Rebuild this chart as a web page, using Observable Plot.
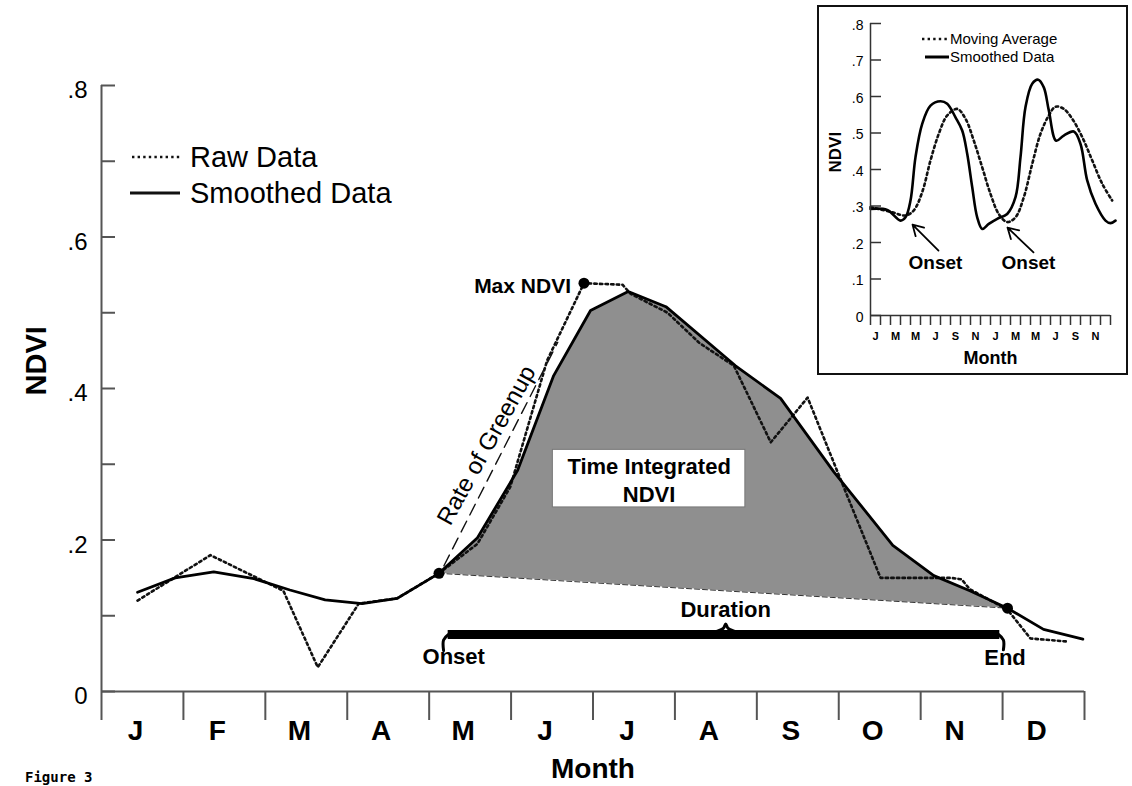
<!DOCTYPE html>
<html>
<head>
<meta charset="utf-8">
<script src="https://cdn.jsdelivr.net/npm/d3@7"></script>
<script src="https://cdn.jsdelivr.net/npm/@observablehq/plot@0.6"></script>
<style>
  html, body { margin: 0; padding: 0; background: #fff; }
  body { width: 1132px; height: 786px; overflow: hidden; position: relative;
         font-family: "Liberation Sans", Arial, Helvetica, sans-serif; color: #000; }
  #main { position: absolute; left: 0; top: 0; }
  #inset { position: absolute; left: 817px; top: 5px; width: 307px; height: 366px;
           border: 2px solid #111; background: #fff; }
  #inset svg { position: absolute; left: 0; top: 0; }
  .leg { position: absolute; white-space: nowrap; }
  .legtxt { position: absolute; white-space: nowrap; line-height: 1; }
  #caption { position: absolute; left: 25px; top: 770px; font-family: "DejaVu Sans Mono", "Liberation Mono", monospace;
             font-weight: bold; font-size: 14px; line-height: 14px; }
</style>
</head>
<body>
<div id="main"></div>
<div id="inset"></div>

<svg class="leg" style="left:128px;top:150px" width="56" height="14"><line x1="4" x2="52" y1="7" y2="7" stroke="#111" stroke-width="2.6" stroke-dasharray="2.4,3.2"/></svg>
<div class="legtxt" style="left:190px;top:143px;font-size:29px;">Raw Data</div>
<svg class="leg" style="left:128px;top:186px" width="56" height="14"><line x1="2" x2="52" y1="7" y2="7" stroke="#111" stroke-width="2.8"/></svg>
<div class="legtxt" style="left:190px;top:179px;font-size:29px;">Smoothed Data</div>

<div id="caption">Figure 3</div>

<script>
// ---------------- Main chart data ----------------
const monthLabels = ["J","F","M","A","M","J","J","A","S","O","N","D"];

// Raw (dotted) series: position in months from Jan 1, NDVI
const rawMonth = [0.44, 1.33, 2.22, 2.64, 3.14, 3.61, 4.12, 4.59, 4.99, 5.44, 5.89, 6.36, 6.46, 6.91, 7.3, 7.72, 8.17, 8.62, 8.94, 9.51, 10.37, 10.5, 10.6, 11.06, 11.34, 11.79];
const rawNdvi  = [0.12, 0.18, 0.133, 0.032, 0.116, 0.123, 0.156, 0.195, 0.27, 0.437, 0.539, 0.537, 0.525, 0.50, 0.46, 0.43, 0.329, 0.388, 0.302, 0.15, 0.15, 0.148, 0.135, 0.108, 0.07, 0.066];

// Smoothed (solid) series
const smoothMonth = [0.44, 0.9, 1.37, 1.86, 2.3, 2.73, 3.18, 3.61, 4.12, 4.59, 5.08, 5.52, 5.97, 6.43, 6.89, 7.74, 8.29, 8.94, 9.66, 10.16, 10.6, 11.06, 11.5, 11.98];
const smoothNdvi  = [0.131, 0.15, 0.158, 0.149, 0.134, 0.121, 0.116, 0.123, 0.156, 0.203, 0.292, 0.417, 0.503, 0.528, 0.508, 0.43, 0.387, 0.29, 0.193, 0.153, 0.133, 0.11, 0.082, 0.069];

const yTicks = [0, 0.2, 0.4, 0.6, 0.8];
const yMinorTicks = [0.1, 0.3, 0.5, 0.7];

// Key points
const onsetPoint = {month: 4.12, ndvi: 0.156};
const endPoint   = {month: 11.06, ndvi: 0.11};
const maxPoint   = {month: 5.89, ndvi: 0.539};

// Annotation placements (data units)
const greenupLine = [{month: 4.18, ndvi: 0.166}, {month: 5.57, ndvi: 0.461}];
const greenupLabel = {text: "Rate of Greenup", month: 4.70, ndvi: 0.325, angle: -61};
const tiBox = {x1: 5.51, x2: 7.86, y1: 0.243, y2: 0.319, text: "Time Integrated\nNDVI", month: 6.685, ndvi: 0.281};
const braceLabels = [
  {text: "Duration", month: 7.62, ndvi: 0.107},
  {text: "Onset", month: 4.30, ndvi: 0.045},
  {text: "End", month: 11.03, ndvi: 0.044}
];
const braceBarY = 0.0752;
const braceLeft = 4.176, braceMid = 7.62, braceRight = 11.01;

// ---------------- Inset data ----------------
const insetMonthLabels = ["J","M","M","J","S","N","J","M","M","J","S","N"];
const insetSmoothMonth = [0, 1.67, 3.0, 3.5, 4.0, 4.5, 5.17, 6.0, 7.0, 7.67, 8.5, 9.17, 9.67, 10.17, 10.67, 11.17, 11.83, 12.67, 13.67, 14.5, 15.0, 15.5, 16.17, 16.77, 17.33, 17.83, 18.57, 19.33, 20.33, 21.0, 21.67, 22.5, 23.5, 24.0, 24.5];
const insetSmoothNdvi  = [0.292, 0.289, 0.26, 0.269, 0.315, 0.434, 0.525, 0.575, 0.587, 0.58, 0.543, 0.507, 0.443, 0.352, 0.269, 0.237, 0.251, 0.265, 0.278, 0.324, 0.434, 0.571, 0.635, 0.646, 0.625, 0.562, 0.479, 0.493, 0.504, 0.47, 0.37, 0.306, 0.26, 0.253, 0.26];
const insetAvgMonth = [0, 2.17, 3.5, 4.33, 5.17, 6.0, 6.83, 7.67, 8.67, 9.5, 10.33, 11.17, 12.0, 12.83, 13.67, 14.5, 15.33, 16.17, 17.0, 17.83, 18.5, 19.33, 20.17, 21.17, 22.17, 23.17, 24.17];
const insetAvgNdvi  = [0.297, 0.283, 0.274, 0.288, 0.338, 0.425, 0.498, 0.548, 0.566, 0.539, 0.479, 0.406, 0.333, 0.278, 0.256, 0.269, 0.324, 0.415, 0.498, 0.548, 0.572, 0.566, 0.539, 0.489, 0.425, 0.361, 0.315];
const insetYTicks = [0, 0.1, 0.2, 0.3, 0.4, 0.5, 0.6, 0.7, 0.8];
const insetArrows = [
  {x1: 6.8, y1: 0.178, x2: 4.2, y2: 0.249, labelMonth: 6.5, labelNdvi: 0.145},
  {x1: 16.3, y1: 0.173, x2: 13.7, y2: 0.241, labelMonth: 15.8, labelNdvi: 0.145}
];

// ---------------- Build tables ----------------
const raw = rawMonth.map((m, i) => ({month: m, ndvi: rawNdvi[i]}));
const smooth = smoothMonth.map((m, i) => ({month: m, ndvi: smoothNdvi[i]}));
const slope = (endPoint.ndvi - onsetPoint.ndvi) / (endPoint.month - onsetPoint.month);
const shade = smooth
  .filter(d => d.month >= onsetPoint.month && d.month <= endPoint.month)
  .map(d => ({month: d.month, ndvi: d.ndvi, base: onsetPoint.ndvi + slope * (d.month - onsetPoint.month)}));

const fmtTick = d => d === 0 ? "0" : d3.format(".1f")(d).replace(/^0/, "");
const FONT = "'Liberation Sans', Arial, Helvetica, sans-serif";
const AX = "#555";

// brace geometry (data units)
const braceBar = [
  {month: braceLeft + 0.05, ndvi: braceBarY},
  {month: braceRight - 0.05, ndvi: braceBarY}
];
const braceHooks = [
  [{month: braceLeft, ndvi: 0.054}, {month: braceLeft, ndvi: 0.068}, {month: braceLeft + 0.06, ndvi: braceBarY}],
  [{month: braceRight, ndvi: 0.055}, {month: braceRight, ndvi: 0.068}, {month: braceRight - 0.06, ndvi: braceBarY}],
  [{month: braceMid - 0.14, ndvi: braceBarY + 0.003}, {month: braceMid - 0.03, ndvi: braceBarY + 0.008}, {month: braceMid, ndvi: 0.089}, {month: braceMid + 0.03, ndvi: braceBarY + 0.008}, {month: braceMid + 0.14, ndvi: braceBarY + 0.003}]
];

const plotW = 1132, plotH = 786, mL = 101, mR = 48, mT = 85, mB = 95;
const innerW = plotW - mL - mR;

const main = Plot.plot({
  width: plotW, height: plotH,
  marginLeft: mL, marginRight: mR, marginTop: mT, marginBottom: mB,
  x: {domain: [0, 12]},
  y: {domain: [0, 0.8]},
  style: {fontFamily: FONT, color: "#000", background: "#fff"},
  marks: [
    Plot.areaY(shade, {x: "month", y1: "base", y2: "ndvi", fill: "#8f8f8f"}),
    Plot.line([onsetPoint, endPoint], {x: "month", y: "ndvi", stroke: "#333", strokeWidth: 1, strokeDasharray: "5,3"}),
    Plot.line(greenupLine, {x: "month", y: "ndvi", stroke: "#111", strokeWidth: 1.4, strokeDasharray: "12,7"}),
    Plot.line(raw, {x: "month", y: "ndvi", stroke: "#111", strokeWidth: 2.6, strokeDasharray: "2.4,3.2"}),
    Plot.line(smooth, {x: "month", y: "ndvi", stroke: "#000", strokeWidth: 2.8}),
    Plot.dot([onsetPoint, endPoint, maxPoint], {x: "month", y: "ndvi", r: 5.5, fill: "#000", stroke: "none"}),
    Plot.rect([tiBox], {x1: "x1", x2: "x2", y1: "y1", y2: "y2", fill: "#fff", stroke: "#777", strokeWidth: 1}),
    Plot.text([tiBox], {x: "month", y: "ndvi", text: "text", fontSize: 22, fontWeight: "bold", lineHeight: 1.3}),
    Plot.text([maxPoint], {x: "month", y: "ndvi", text: () => "Max NDVI", textAnchor: "end", dx: -13, dy: 3, fontSize: 21, fontWeight: "bold"}),
    Plot.text([greenupLabel], {x: "month", y: "ndvi", text: "text", rotate: greenupLabel.angle, fontSize: 24}),
    Plot.line(braceBar, {x: "month", y: "ndvi", stroke: "#000", strokeWidth: 9, strokeLinecap: "butt"}),
    ...braceHooks.map(h => Plot.line(h, {x: "month", y: "ndvi", stroke: "#000", strokeWidth: 3, curve: "catmull-rom"})),
    Plot.text(braceLabels, {x: "month", y: "ndvi", text: "text", fontSize: 22, fontWeight: "bold"}),
    // axes
    Plot.ruleY([0], {stroke: AX, strokeWidth: 2}),
    Plot.ruleX([0], {y1: 0, y2: 0.8, stroke: AX, strokeWidth: 2}),
    Plot.ruleY(yTicks.concat(yMinorTicks), {stroke: AX, strokeWidth: 2, insetRight: innerW - 14}),
    Plot.axisY(yTicks, {tickSize: 0, tickPadding: 14, tickFormat: fmtTick, fontSize: 24, dy: 5, label: null}),
    Plot.axisX(d3.range(13), {tickSize: 29, tickFormat: () => "", stroke: AX, strokeWidth: 2, label: null}),
    Plot.axisX(d3.range(12).map(i => i + 0.5), {tickSize: 0, tickPadding: 29, tickFormat: d => monthLabels[Math.floor(d)], fontSize: 28, fontWeight: "bold", dx: -7, label: null}),
    Plot.text(["Month"], {frameAnchor: "bottom", lineAnchor: "middle", dy: 78, fontSize: 28, fontWeight: "bold"}),
    Plot.text(["NDVI"], {frameAnchor: "left", dx: -65, dy: 7, rotate: -90, fontSize: 29, fontWeight: "bold"})
  ]
});
document.getElementById("main").appendChild(main);

// ---------------- Inset ----------------
const insetSmooth = insetSmoothMonth.map((m, i) => ({month: m, ndvi: insetSmoothNdvi[i]}));
const insetAvg = insetAvgMonth.map((m, i) => ({month: m, ndvi: insetAvgNdvi[i]}));
const iW = 307, iH = 366, iL = 51, iR = 16, iT = 16, iB = 58;
const inset = Plot.plot({
  width: iW, height: iH,
  marginLeft: iL, marginRight: iR, marginTop: iT, marginBottom: iB,
  x: {domain: [0, 24]},
  y: {domain: [0, 0.8]},
  style: {fontFamily: FONT, color: "#000", background: "#fff"},
  marks: [
    Plot.line(insetAvg, {x: "month", y: "ndvi", stroke: "#111", strokeWidth: 2.6, strokeDasharray: "2.4,3.2", curve: "catmull-rom"}),
    Plot.line(insetSmooth, {x: "month", y: "ndvi", stroke: "#000", strokeWidth: 2.6, curve: "catmull-rom"}),
    Plot.ruleX([0], {y1: 0, y2: 0.8, stroke: "#333", strokeWidth: 1.5}),
    Plot.ruleY([0], {stroke: "#333", strokeWidth: 1.5}),
    Plot.ruleY(insetYTicks, {stroke: "#333", strokeWidth: 1.5, insetRight: (iW - iL - iR) - 11}),
    Plot.axisY(insetYTicks, {tickSize: 0, tickPadding: 7, tickFormat: fmtTick, fontSize: 14, dy: 2, label: null}),
    Plot.axisX(d3.range(25), {tickSize: 10, tickFormat: () => "", stroke: "#333", strokeWidth: 1.5, label: null}),
    Plot.axisX(d3.range(12).map(i => i * 2 + 0.5), {tickSize: 0, tickPadding: 17, tickFormat: d => insetMonthLabels[Math.floor(d / 2)], fontSize: 11, fontWeight: "bold", label: null}),
    Plot.text(["Month"], {frameAnchor: "bottom", lineAnchor: "middle", dy: 43, fontSize: 18, fontWeight: "bold"}),
    Plot.text(["NDVI"], {frameAnchor: "left", dx: -35, dy: 3, rotate: -90, fontSize: 17, fontWeight: "bold"}),
    Plot.arrow(insetArrows, {x1: "x1", y1: "y1", x2: "x2", y2: "y2", stroke: "#000", strokeWidth: 1.8, headLength: 10}),
    Plot.text(insetArrows, {x: "labelMonth", y: "labelNdvi", text: () => "Onset", fontSize: 19, fontWeight: "bold"})
  ]
});
const insetDiv = document.getElementById("inset");
insetDiv.appendChild(inset);
insetDiv.insertAdjacentHTML("beforeend", `
  <svg class="leg" style="left:101px;top:25px" width="30" height="14"><line x1="2" x2="28" y1="7" y2="7" stroke="#111" stroke-width="2.6" stroke-dasharray="2.4,3.2"/></svg>
  <div class="legtxt" style="left:131px;top:24px;font-size:15px;">Moving Average</div>
  <svg class="leg" style="left:104px;top:43px" width="28" height="14"><line x1="2" x2="26" y1="7" y2="7" stroke="#000" stroke-width="3"/></svg>
  <div class="legtxt" style="left:131px;top:42px;font-size:15px;">Smoothed Data</div>
`);
</script>
</body>
</html>
